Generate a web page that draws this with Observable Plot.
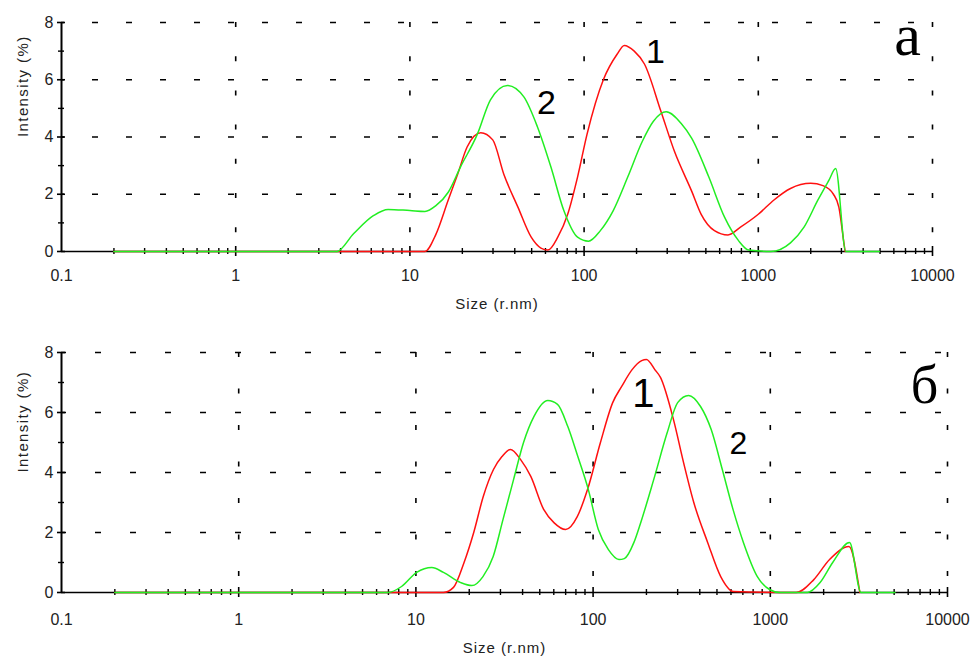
<!DOCTYPE html>
<html><head><meta charset="utf-8">
<script src="https://cdn.jsdelivr.net/npm/d3@7"></script>
<script src="https://cdn.jsdelivr.net/npm/@observablehq/plot@0.6"></script>
<style>
body{margin:0;background:#fff;}
#chart svg{display:block;overflow:hidden;}
</style>
</head><body><div id="chart"></div>
<script>
// ---- Panel а (top) ----
const topRedSizes = [0.2, 12.2, 14.1, 16.6, 18.8, 21.3, 25.5, 29.9, 34.6, 41.7, 49.7, 56.5, 62, 70.6, 80.5, 91.7, 104, 129, 155, 170, 194, 222, 276, 330, 415, 470, 560, 670, 790, 1000, 1230, 1530, 2000, 2350, 2700, 2900, 3100, 3150];
const topRedValues = [0, 0, 0.6, 1.8, 2.7, 3.65, 4.15, 3.9, 2.7, 1.55, 0.5, 0.12, 0.05, 0.5, 1.3, 2.6, 4.1, 6.0, 6.9, 7.2, 7.0, 6.55, 4.9, 3.5, 2.1, 1.3, 0.73, 0.58, 0.85, 1.3, 1.8, 2.2, 2.38, 2.3, 2.0, 1.55, 0.3, 0];
const topGreenSizes = [0.2, 3.8, 4.76, 6.2, 7.5, 10, 12.2, 14.1, 16.6, 19.5, 24.4, 29, 36.3, 45.1, 54, 64.5, 76.5, 91.7, 106, 124, 147, 178, 216, 250, 296, 361, 415, 520, 640, 770, 880, 1180, 1530, 1830, 2200, 2550, 2780, 3180, 4950];
const topGreenValues = [0, 0, 0.63, 1.26, 1.47, 1.43, 1.4, 1.6, 2.07, 2.95, 4.1, 5.3, 5.8, 5.4, 4.35, 2.95, 1.43, 0.5, 0.36, 0.73, 1.43, 2.6, 3.85, 4.55, 4.88, 4.47, 3.95, 2.6, 1.2, 0.38, 0.05, 0, 0.3, 0.85, 1.8, 2.5, 2.9, 0, 0];

// ---- Panel б (bottom) ----
const botRedSizes = [0.2, 14.3, 16.3, 18.7, 21.2, 24.0, 27.4, 30.6, 34.2, 39, 44.5, 52.6, 60.1, 70, 81.4, 93, 110, 129, 145, 166, 188, 200, 223, 240, 284, 324, 370, 443, 525, 620, 1400, 1760, 2160, 2780, 3200];
const botRedValues = [0, 0, 0.17, 1.0, 2.0, 3.2, 4.1, 4.53, 4.77, 4.43, 3.87, 2.77, 2.33, 2.1, 2.53, 3.43, 5.0, 6.33, 6.87, 7.43, 7.73, 7.77, 7.43, 7.17, 5.77, 4.33, 3.0, 1.67, 0.53, 0.03, 0, 0.43, 1.1, 1.53, 0];
const botGreenSizes = [0.2, 6.95, 8.3, 10.1, 12.3, 14.3, 17.9, 20.7, 23.9, 27.3, 31, 35.6, 40.5, 46.4, 55.5, 63, 72, 82, 94, 107, 122, 140, 150, 170, 185, 220, 262, 300, 346, 404, 464, 536, 616, 705, 845, 990, 1130, 1620, 1910, 2250, 2800, 3250, 5050];
const botGreenValues = [0, 0, 0.2, 0.67, 0.83, 0.67, 0.33, 0.23, 0.53, 1.2, 2.43, 3.77, 5.0, 5.87, 6.4, 6.27, 5.53, 4.53, 3.43, 2.1, 1.43, 1.1, 1.13, 1.67, 2.3, 3.77, 5.33, 6.33, 6.57, 6.2, 5.43, 4.1, 2.77, 1.67, 0.53, 0.1, 0, 0, 0.33, 1.0, 1.67, 0, 0];

// ---- Ticks and labels ----
const xTickValues = [0.1, 1, 10, 100, 1000, 10000];
const xTickLabels = ["0.1", "1", "10", "100", "1000", "10000"];
const xGridValues = [1, 10, 100, 1000, 10000];
const yTickValues = [0, 2, 4, 6, 8];
const yMinorValues = [1, 3, 5, 7];
const yGridValues = [2, 4, 6, 8];
const xMinorValues = [];
for (const decade of [0.1, 1, 10, 100, 1000]) for (let m = 2; m <= 9; m++) xMinorValues.push(+(decade * m).toPrecision(3));

const yAxisLabel = "Intensity (%)";
const xAxisLabel = "Size (r.nm)";

// curve number labels
const topNumLabels = ["1", "2"];
const topNumX = [257, 60.8];
const topNumY = [6.98, 5.19];
const topNumSize = [34, 34];
const botNumLabels = ["1", "2"];
const botNumX = [192, 661];
const botNumY = [6.6, 4.97];
const botNumSize = [40, 32];
// panel letters
const topLetter = ["а"], topLetterX = [7200], topLetterY = [7.53];
const botLetter = ["б"], botLetterX = [7410], botLetterY = [6.89];

const RED = "#ff1010", GREEN = "#22ee22";
const FONT = "'Liberation Sans', Arial, sans-serif";

const rows = (s, v) => s.map((d, i) => ({size: d, intensity: v[i]}));
const labelRows = (t, x, y, f) => t.map((d, i) => ({label: d, size: x[i], intensity: y[i], fs: f ? f[i] : 0}));

function panel(o) {
  const svg = Plot.plot({
    width: o.width, height: o.height,
    marginTop: o.mt, marginRight: o.mr, marginBottom: o.mb, marginLeft: o.ml,
    style: {fontFamily: FONT, background: "#fff", overflow: "hidden"},
    x: {type: "log", domain: [0.1, 10000], axis: null},
    y: {domain: [0, 8], axis: null},
    marks: [
      Plot.ruleY(yGridValues, {y: d => d, x1: 0.1, x2: 10000, stroke: "#000", strokeWidth: 1.6, strokeDasharray: o.hDash, strokeDashoffset: o.hOff}),
      Plot.ruleX(xGridValues, {x: d => d, y1: 8, y2: 0, stroke: "#000", strokeWidth: 1.6, strokeDasharray: o.vDash}),
      Plot.ruleY([0], {y: d => d, x1: 0.1, x2: 10000, stroke: "#000", strokeWidth: 1.6}),
      Plot.ruleX([0.1], {x: d => d, y1: 0, y2: 8, stroke: "#000", strokeWidth: 2}),
      Plot.ruleX(xMinorValues, {x: d => d, y1: 0, y2: 0, insetTop: 3, insetBottom: 3, stroke: "#000", strokeWidth: 1.4}),
      Plot.ruleX(xGridValues, {x: d => d, y1: 0, y2: 0, insetTop: 5, insetBottom: 5, stroke: "#000", strokeWidth: 1.6}),
      Plot.ruleY(yTickValues, {y: d => d, x1: 0.1, x2: 0.1, insetLeft: 4, insetRight: 4, stroke: "#000", strokeWidth: 1.6}),
      Plot.ruleY(yMinorValues, {y: d => d, x1: 0.1, x2: 0.1, insetLeft: 3, insetRight: 3, stroke: "#000", strokeWidth: 1.4}),
      Plot.text(xTickValues, {x: d => d, y: 0, text: (d, i) => xTickLabels[i], dy: o.xTickDy, fontSize: 16, fill: "#222"}),
      Plot.text(yTickValues, {x: 0.1, y: d => d, text: d => String(d), textAnchor: "end", dx: -8, fontSize: 16, fill: "#222"}),
      Plot.text([yAxisLabel], {text: d => d, frameAnchor: "left", dx: -38, rotate: -90, fontSize: 15, fill: "#222", className: "axlabel"}),
      Plot.text([xAxisLabel], {text: d => d, frameAnchor: "bottom", dy: o.xLabelDy, fontSize: 15, fill: "#222"}),
      Plot.line(o.red, {x: "size", y: "intensity", stroke: RED, strokeWidth: 1.5, curve: "monotone-x"}),
      Plot.line(o.green, {x: "size", y: "intensity", stroke: GREEN, strokeWidth: 1.5, curve: "monotone-x"}),
      Plot.text(o.nums, {x: "size", y: "intensity", text: "label", fontSize: "fs", fill: "#000", stroke: "#fff", strokeWidth: 5}),
      Plot.text(o.letter, {x: "size", y: "intensity", text: "label", fontSize: o.letterSize, fontFamily: "'Liberation Serif', 'DejaVu Serif', serif", fill: "#000"})
    ]
  });
  // widen the axis titles' letter spacing like the instrument software
  d3.select(svg).selectAll("text")
    .filter(function () { return this.textContent === yAxisLabel; })
    .style("letter-spacing", "1.4px");
  d3.select(svg).selectAll("text")
    .filter(function () { return this.textContent === xAxisLabel; })
    .style("letter-spacing", "1px");
  return svg;
}

const topChart = panel({
  width: 971, height: 325, mt: 22, mr: 39, mb: 74, ml: 61,
  hDash: "6 28", hOff: 3, vDash: "5 29.2", xTickDy: 24, xLabelDy: 57,
  red: rows(topRedSizes, topRedValues), green: rows(topGreenSizes, topGreenValues),
  nums: labelRows(topNumLabels, topNumX, topNumY, topNumSize),
  letter: labelRows(topLetter, topLetterX, topLetterY), letterSize: 60
});
const botChart = panel({
  width: 971, height: 334, mt: 27, mr: 24, mb: 67, ml: 61,
  hDash: "6 29", hOff: 1, vDash: "5 31.5", xTickDy: 27, xLabelDy: 60,
  red: rows(botRedSizes, botRedValues), green: rows(botGreenSizes, botGreenValues),
  nums: labelRows(botNumLabels, botNumX, botNumY, botNumSize),
  letter: labelRows(botLetter, botLetterX, botLetterY), letterSize: 54
});
const root = document.getElementById("chart");
root.appendChild(topChart);
root.appendChild(botChart);
</script>
</body></html>
